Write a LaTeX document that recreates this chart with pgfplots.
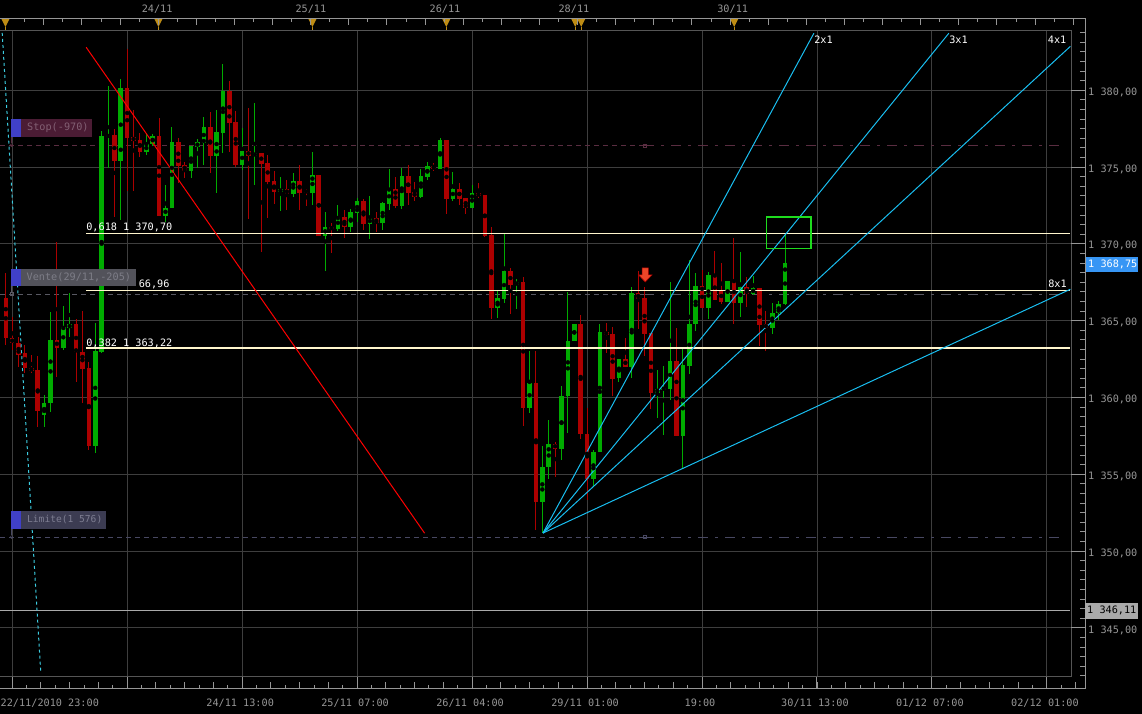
\documentclass[border=0pt]{standalone}
\usepackage{fontspec}
\setmainfont{DejaVu Sans Mono}
\usepackage{pgfplots}
\usepackage{pgfplotstable}
\pgfplotsset{compat=1.18}

\definecolor{cgreen}{RGB}{0,172,0}
\definecolor{cred}{RGB}{172,0,0}
\definecolor{gridc}{RGB}{62,62,62}
\definecolor{framec}{RGB}{85,85,85}
\definecolor{axisc}{RGB}{150,150,150}
\definecolor{labc}{RGB}{150,150,150}
\definecolor{fibc}{RGB}{255,246,205}
\definecolor{gannc}{RGB}{25,190,240}
\definecolor{dotc}{RGB}{60,205,225}
\definecolor{goldc}{RGB}{190,140,20}
\definecolor{stopbox}{RGB}{75,28,52}
\definecolor{stoptxt}{RGB}{130,95,115}
\definecolor{ventebox}{RGB}{82,82,90}
\definecolor{ventetxt}{RGB}{125,125,135}
\definecolor{limbox}{RGB}{60,60,82}
\definecolor{limtxt}{RGB}{125,125,145}
\definecolor{bluesq}{RGB}{64,64,200}
\definecolor{stopline}{RGB}{90,45,65}
\definecolor{venteline}{RGB}{88,88,98}
\definecolor{limline}{RGB}{72,72,98}
\definecolor{pricebox}{RGB}{55,150,245}
\definecolor{lowbox}{RGB}{170,170,170}
\definecolor{rectg}{RGB}{30,220,30}
\definecolor{arrowc}{RGB}{235,70,40}
\definecolor{grayline}{RGB}{170,170,170}

\pgfdeclareplotmark{gtri}{%
  \pgfpathmoveto{\pgfqpoint{-4bp}{4bp}}%
  \pgfpathlineto{\pgfqpoint{4bp}{4bp}}%
  \pgfpathlineto{\pgfqpoint{0bp}{-4bp}}%
  \pgfpathclose\pgfusepathqfill
  \pgfpathmoveto{\pgfqpoint{0bp}{-4bp}}%
  \pgfpathlineto{\pgfqpoint{0bp}{-8bp}}%
  \pgfusepathqstroke}
\pgfdeclareplotmark{darr}{%
  \pgfpathmoveto{\pgfqpoint{-3.2bp}{7bp}}%
  \pgfpathlineto{\pgfqpoint{3.2bp}{7bp}}%
  \pgfpathlineto{\pgfqpoint{3.2bp}{0bp}}%
  \pgfpathlineto{\pgfqpoint{6.7bp}{0bp}}%
  \pgfpathlineto{\pgfqpoint{0bp}{-7bp}}%
  \pgfpathlineto{\pgfqpoint{-6.7bp}{0bp}}%
  \pgfpathlineto{\pgfqpoint{-3.2bp}{0bp}}%
  \pgfpathclose\pgfusepathqfillstroke}

\pgfplotstableread{
x o h l c
-1 1366.47 1368.09 1363.43 1363.86
0 1363.86 1365.27 1363.10 1363.54
1 1363.54 1363.97 1362.02 1362.78
2 1362.89 1363.43 1361.59 1361.91
3 1361.95 1362.78 1361.59 1361.74
4 1361.80 1362.71 1358.11 1359.13
5 1358.87 1360.18 1358.11 1359.64
6 1359.64 1365.60 1359.09 1363.75
7 1363.75 1370.15 1361.37 1363.25
8 1363.25 1365.97 1363.10 1364.62
9 1364.55 1366.79 1363.97 1364.78
10 1364.78 1365.10 1361.04 1362.99
11 1362.99 1365.64 1359.64 1361.87
12 1361.91 1362.30 1356.60 1356.86
13 1356.86 1364.84 1356.42 1363.04
14 1362.99 1377.35 1362.90 1377.03
15 1376.98 1380.28 1374.92 1377.09
16 1377.09 1377.46 1371.78 1375.40
17 1375.40 1380.72 1371.56 1380.13
18 1380.13 1382.67 1373.45 1376.92
19 1376.98 1378.72 1373.45 1376.70
20 1376.77 1377.24 1375.64 1376.01
21 1376.01 1377.20 1375.79 1376.49
22 1376.49 1377.15 1376.40 1377.03
23 1377.03 1378.18 1371.84 1371.84
24 1371.84 1373.84 1371.45 1372.36
25 1372.36 1377.59 1372.32 1376.66
26 1376.66 1376.88 1373.95 1375.08
27 1375.14 1375.35 1374.27 1374.77
28 1374.77 1376.40 1374.31 1376.37
29 1376.29 1376.83 1374.96 1376.64
30 1376.59 1378.26 1375.14 1377.61
31 1377.61 1378.61 1374.60 1375.73
32 1375.73 1378.72 1373.34 1377.29
33 1377.24 1381.71 1375.94 1379.95
34 1379.95 1380.61 1376.01 1377.89
35 1377.96 1378.65 1374.99 1375.14
36 1375.14 1377.57 1374.81 1376.05
37 1376.05 1378.87 1371.63 1375.73
38 1375.73 1379.19 1373.84 1375.92
39 1375.92 1375.92 1369.50 1375.20
40 1375.27 1375.79 1371.71 1374.05
41 1374.10 1374.75 1372.58 1373.38
42 1373.38 1374.38 1372.15 1373.58
43 1373.58 1374.16 1372.21 1373.25
44 1373.25 1374.64 1373.08 1374.10
45 1374.10 1375.14 1372.21 1373.34
46 1373.45 1373.58 1372.49 1373.38
47 1373.34 1375.99 1372.54 1374.49
48 1374.49 1374.49 1370.54 1370.54
49 1370.54 1372.10 1368.24 1371.11
50 1371.11 1371.35 1369.43 1370.98
51 1370.98 1372.54 1370.85 1371.76
52 1371.76 1372.21 1370.41 1371.11
53 1371.11 1372.28 1370.78 1372.08
54 1372.02 1373.01 1371.43 1372.80
55 1372.80 1372.93 1370.91 1371.30
56 1371.30 1373.14 1370.33 1371.69
57 1371.69 1372.10 1370.78 1371.37
58 1371.37 1372.73 1370.91 1372.67
59 1372.62 1374.88 1372.21 1373.58
60 1373.58 1374.36 1372.34 1372.47
61 1372.47 1374.96 1372.28 1374.42
62 1374.42 1375.16 1372.54 1373.32
63 1373.38 1374.05 1372.80 1373.06
64 1373.06 1374.88 1373.00 1374.42
65 1374.36 1375.34 1374.16 1375.08
66 1375.08 1375.29 1374.75 1374.88
67 1374.88 1376.92 1374.88 1376.77
68 1376.77 1376.77 1371.95 1372.93
69 1372.93 1374.68 1372.82 1373.58
70 1373.58 1373.97 1372.54 1372.93
71 1372.99 1372.99 1371.95 1372.34
72 1372.34 1373.84 1372.34 1373.32
73 1373.32 1373.97 1372.99 1373.12
74 1373.19 1373.19 1370.45 1370.52
75 1370.58 1371.11 1365.12 1365.84
76 1365.84 1366.94 1365.19 1366.49
77 1366.42 1370.65 1366.16 1368.24
78 1368.24 1368.44 1365.45 1367.33
79 1367.33 1367.72 1365.77 1367.53
80 1367.53 1367.85 1358.18 1359.35
81 1359.35 1363.04 1359.02 1360.96
82 1360.96 1363.04 1351.39 1353.24
83 1353.24 1356.88 1351.18 1355.49
84 1355.49 1358.55 1354.73 1356.99
85 1356.99 1357.12 1354.86 1356.68
86 1356.68 1360.76 1355.97 1360.11
87 1360.11 1366.88 1357.72 1363.69
88 1363.69 1364.80 1363.69 1364.80
89 1364.80 1365.38 1357.33 1357.66
90 1357.66 1359.33 1353.35 1354.71
91 1354.71 1356.60 1354.21 1356.47
92 1356.47 1364.80 1356.47 1364.28
93 1364.28 1364.86 1362.93 1364.08
94 1364.15 1364.60 1360.07 1361.24
95 1361.24 1362.52 1361.02 1362.52
96 1362.52 1363.88 1362.00 1362.00
97 1362.00 1367.20 1361.30 1366.79
98 1366.79 1368.24 1364.47 1366.42
99 1366.51 1367.20 1362.73 1364.14
100 1364.21 1364.21 1359.28 1360.33
101 1360.33 1361.80 1358.70 1360.57
102 1360.50 1362.06 1357.59 1360.63
103 1360.57 1367.53 1359.87 1362.39
104 1362.39 1364.53 1357.53 1357.53
105 1357.53 1363.17 1355.45 1362.13
106 1362.08 1368.96 1361.56 1364.80
107 1364.80 1368.11 1364.36 1367.27
108 1367.27 1368.31 1365.84 1365.84
109 1365.84 1368.18 1365.12 1367.98
110 1367.98 1369.54 1366.36 1366.36
111 1367.01 1368.76 1366.10 1366.23
112 1366.23 1367.59 1366.23 1367.59
113 1367.59 1370.39 1364.80 1366.16
114 1366.16 1369.48 1365.25 1367.20
115 1367.20 1367.85 1365.90 1366.75
116 1366.75 1367.92 1366.70 1367.14
117 1367.14 1367.14 1363.36 1364.73
118 1364.80 1365.64 1363.04 1364.53
119 1364.53 1366.16 1364.14 1365.51
120 1365.51 1366.29 1365.06 1366.10
121 1366.10 1370.65 1366.03 1368.75
}\candles

\newcommand{\tf}{\fontsize{10.2bp}{12bp}\selectfont}

\begin{document}
\begin{tikzpicture}[x=1bp,y=1bp]
\fill[black] (0,0) rectangle (1142,714);
\begin{axis}[
  at={(0bp,37bp)}, anchor=south west, scale only axis,
  width=1071bp, height=646bp,
  xmin=-1.831, xmax=165.77, ymin=1341.83, ymax=1383.86,
  clip=false,
  axis line style={draw=none}, tick style={draw=none},
  grid=major, major grid style={gridc, line width=1bp},
  xtick={0,18,...,162},
  xticklabels={{},{},{24/11 13:00},{25/11 07:00},{26/11 04:00},{29/11 01:00},{19:00},{30/11 13:00},{01/12 07:00},{02/12 01:00}},
  ytick={1345,1350,...,1380},
  yticklabels={{1 345,00},{1 350,00},{1 355,00},{1 360,00},{1 365,00},{1 370,00},{1 375,00},{1 380,00}},
  yticklabel pos=right,
  tick label style={font=\tf, text=labc},
  yticklabel style={anchor=west, inner sep=0pt, xshift=17bp, yshift=-2bp},
  xticklabel style={anchor=base, inner sep=0pt, yshift=-29.4bp, xshift=-2bp},
]
% horizontal gray line 1346.11
\addplot[grayline, line width=1bp] coordinates {(-1.831,1346.11) (165.6,1346.11)};
% dashed order lines
\addplot[stopline, line width=1bp, dash pattern=on 5bp off 4bp] coordinates {(-1.831,1376.42) (98.95,1376.42)};
\addplot[stopline, line width=1bp, dash pattern=on 10bp off 7bp on 3bp off 7bp] coordinates {(98.95,1376.42) (164.6,1376.42)};
\addplot[venteline, line width=1bp, dash pattern=on 5bp off 4bp] coordinates {(-1.831,1366.73) (98.95,1366.73)};
\addplot[venteline, line width=1bp, dash pattern=on 10bp off 7bp on 3bp off 7bp] coordinates {(98.95,1366.73) (164.6,1366.73)};
\addplot[limline, line width=1bp, dash pattern=on 5bp off 4bp] coordinates {(-1.831,1350.92) (98.95,1350.92)};
\addplot[limline, line width=1bp, dash pattern=on 10bp off 7bp on 3bp off 7bp] coordinates {(98.95,1350.92) (164.6,1350.92)};
\addplot[only marks, mark=square, mark size=1.5bp, stopline] coordinates {(98.95,1376.42)};
\addplot[only marks, mark=square, mark size=1.5bp, limline] coordinates {(98.95,1350.92)};
\addplot[only marks, mark=square, mark size=1.5bp, venteline] coordinates {(-0.11,1366.73)};
\addplot[only marks, mark=o, mark size=1.5bp, limline] coordinates {(-0.11,1350.92)};
\addplot[only marks, mark=o, mark size=1.5bp, stopline] coordinates {(-0.11,1376.42)};
% candles: green
\addplot[only marks, mark=none, restrict expr to domain={\thisrow{c}-\thisrow{o}}{0.00001:100},
  error bars/.cd, y dir=both, y explicit, error mark=none,
  error bar style={draw=cgreen, line width=1bp}]
  table[x=x, y expr={(\thisrow{h}+\thisrow{l})/2}, y error expr={(\thisrow{h}-\thisrow{l})/2}]{\candles};
\addplot[only marks, mark=none, restrict expr to domain={\thisrow{c}-\thisrow{o}}{0.00001:100},
  error bars/.cd, y dir=both, y explicit, error mark=none,
  error bar style={draw=cgreen, line width=4.6bp}]
  table[x=x, y expr={(\thisrow{o}+\thisrow{c})/2}, y error expr={max(abs(\thisrow{o}-\thisrow{c})/2,0.035)}]{\candles};
% candles: red
\addplot[only marks, mark=none, restrict expr to domain={\thisrow{c}-\thisrow{o}}{-100:0},
  error bars/.cd, y dir=both, y explicit, error mark=none,
  error bar style={draw=cred, line width=1bp}]
  table[x=x, y expr={(\thisrow{h}+\thisrow{l})/2}, y error expr={(\thisrow{h}-\thisrow{l})/2}]{\candles};
\addplot[only marks, mark=none, restrict expr to domain={\thisrow{c}-\thisrow{o}}{-100:0},
  error bars/.cd, y dir=both, y explicit, error mark=none,
  error bar style={draw=cred, line width=4.6bp}]
  table[x=x, y expr={(\thisrow{o}+\thisrow{c})/2}, y error expr={max(abs(\thisrow{o}-\thisrow{c})/2,0.035)}]{\candles};
% fibonacci / order levels
\addplot[fibc, line width=1.2bp] coordinates {(11.58,1370.70) (165.6,1370.70)};
\addplot[fibc, line width=1.2bp] coordinates {(11.63,1366.96) (165.6,1366.96)};
\addplot[fibc, line width=1.2bp] coordinates {(11.63,1363.22) (165.6,1363.22)};
% red trend line
\addplot[red, line width=1bp] coordinates {(11.58,1382.80) (64.57,1351.17)};
% cyan dotted indicator
\addplot[dotc, line width=1bp, dash pattern=on 3bp off 3bp] coordinates {(-1.565,1383.73) (1.408,1363.30) (4.476,1342.09)};
% Gann fan
\addplot[gannc, line width=1bp] coordinates {(83.1,1351.18) (125.51,1383.71)};
\addplot[gannc, line width=1bp] coordinates {(83.1,1351.18) (146.64,1383.71)};
\addplot[gannc, line width=1bp] coordinates {(83.1,1351.18) (165.67,1382.86)};
\addplot[gannc, line width=1bp] coordinates {(83.1,1351.18) (165.67,1367.05)};
% green box
\addplot[rectg, line width=1.3bp] coordinates {(118.09,1371.76) (125.04,1371.76) (125.04,1369.70) (118.09,1369.70) (118.09,1371.76)};
% sell arrow
\addplot[only marks, mark=darr, mark options={fill=arrowc, draw=cred, line width=0.6bp}] coordinates {(99.11,1367.98)};
% top time markers
\addplot[only marks, mark=gtri, mark options={fill=goldc, draw=goldc, line width=1bp}] coordinates {(-1.05,1384.38) (22.9,1384.38) (47.0,1384.38) (67.97,1384.38) (88.15,1384.38) (89.09,1384.38) (113.04,1384.38)};
\end{axis}

\begin{scope}[shift={(0,714)}, yscale=-1]
% frames
\draw[framec, line width=1bp] (0,30.7) -- (1071,30.7) -- (1071,677) -- (0,677);
\draw[axisc, line width=1bp] (0,18.3) -- (1085.3,18.3) -- (1085.3,689.3) -- (0,689.3);
% right ticks
\foreach \k in {-6,...,61} \draw[axisc, line width=1bp] (1080,{90.3+9.606*\k}) -- (1085.3,{90.3+9.606*\k});
\foreach \k in {0,...,7} \draw[axisc, line width=1bp] (1071,{90.3+76.85*\k}) -- (1085.3,{90.3+76.85*\k});
% bottom ticks
\foreach \m in {0,...,74} {\pgfmathsetmacro\ll{mod(\m,2)==1 ? 4.3 : 6.7}\draw[axisc, line width=1bp] ({11.7+14.378*\m},689.3) -- ({11.7+14.378*\m},{689.3-\ll});}
\foreach \k in {0,...,9} \draw[axisc, line width=1bp] ({11.7+115.02*\k},677) -- ({11.7+115.02*\k},689.3);
% top ticks
\foreach \m in {1,...,56} {\pgfmathsetmacro\ll{mod(\m,2)==1 ? 3.7 : 6.7}\draw[axisc, line width=1bp] ({5.23+19.07*\m},18.3) -- ({5.23+19.07*\m},{18.3+\ll});}
% top date labels
\node[text=labc, font=\tf, inner sep=0pt] at (156.7,9.5) {24/11};
\node[text=labc, font=\tf, inner sep=0pt] at (310.5,9.5) {25/11};
\node[text=labc, font=\tf, inner sep=0pt] at (444.7,9.5) {26/11};
\node[text=labc, font=\tf, inner sep=0pt] at (573.7,9.5) {28/11};
\node[text=labc, font=\tf, inner sep=0pt] at (732.5,9.5) {30/11};
% first bottom label
\node[text=labc, font=\tf, inner sep=0pt, anchor=base west] at (0,706.5) {22/11/2010 23:00};
% order boxes
\fill[bluesq] (11,119.3) rectangle (21,136.7);
\fill[stopbox] (21,119.3) rectangle (91.7,136.7);
\node[text=stoptxt, font=\tf, inner sep=0pt, anchor=west] at (26.5,128) {Stop(-970)};
\draw[stopline] (11,136.7) -- (11,143.5);
\fill[bluesq] (11,269) rectangle (21,285.7);
\fill[ventebox] (21,269) rectangle (136,285.7);
\node[text=ventetxt, font=\tf, inner sep=0pt, anchor=west] at (26,277.4) {Vente(29/11,-205)};
\draw[venteline] (11,285.7) -- (11,292.5);
\fill[bluesq] (11,511) rectangle (21,529);
\fill[limbox] (21,511) rectangle (106,529);
\node[text=limtxt, font=\fontsize{9.6bp}{11bp}\selectfont, inner sep=0pt, anchor=west] at (26.5,520) {Limite(1 576)};
\draw[limline] (11,529) -- (11,535.5);
% level labels
\node[text=white, font=\tf, inner sep=0pt, anchor=base west] at (85.7,230.6) {0,618 1 370,70};
\node[text=white, font=\tf, inner sep=0pt, anchor=base east] at (169.3,287.4) {66,96};
\node[text=white, font=\tf, inner sep=0pt, anchor=base west] at (85.7,346.6) {0,382 1 363,22};
% gann labels
\node[text=white, font=\tf, inner sep=0pt, anchor=base west] at (814,43.4) {2x1};
\node[text=white, font=\tf, inner sep=0pt, anchor=base west] at (949,43.4) {3x1};
\node[text=white, font=\tf, inner sep=0pt, anchor=base west] at (1047.7,43.4) {4x1};
\node[text=white, font=\tf, inner sep=0pt, anchor=base west] at (1048,287.4) {8x1};
% price boxes on right axis
\fill[pricebox] (1086,256.7) rectangle (1138,271.7);
\node[text=white, font=\tf, inner sep=0pt, anchor=west] at (1088,264.2) {1 368,75};
\fill[lowbox] (1085.3,603.3) rectangle (1138,619);
\node[text=black, font=\tf, inner sep=0pt, anchor=west] at (1087,611.2) {1 346,11};
\end{scope}
\end{tikzpicture}
\end{document}
